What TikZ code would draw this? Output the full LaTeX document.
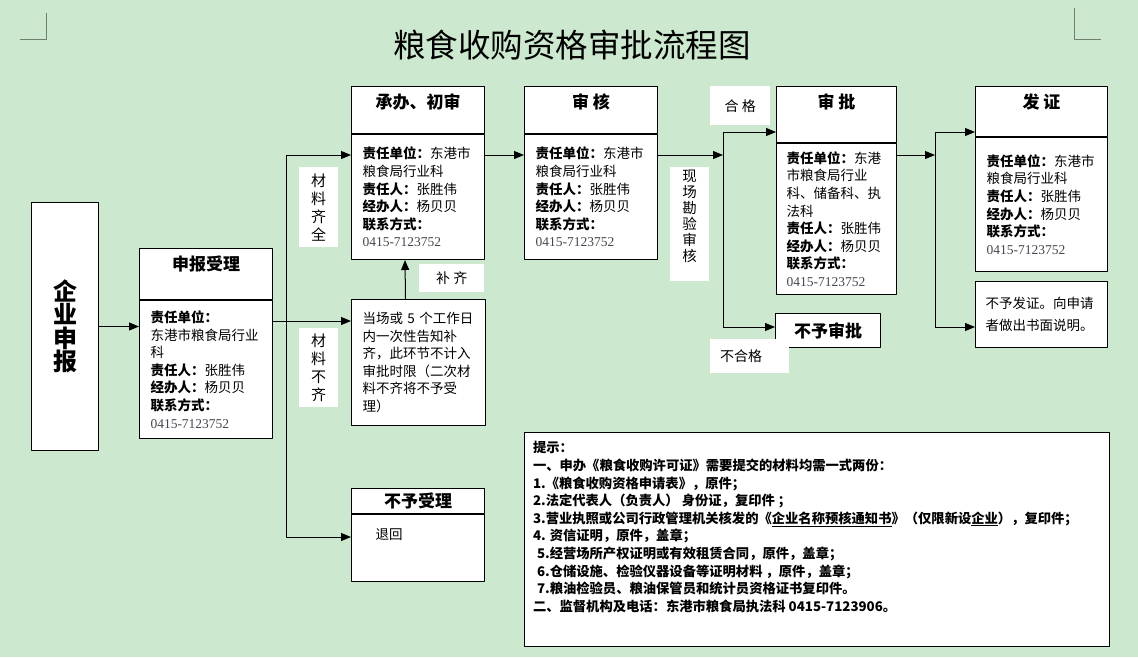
\documentclass[tikz,border=0pt]{standalone}
\usepackage{fontspec}
\setmainfont{Noto Sans CJK SC}
\newfontfamily\numfont{Liberation Serif}
\usetikzlibrary{arrows.meta,positioning}
\definecolor{eyegreen}{RGB}{204,232,207}
\definecolor{marklines}{RGB}{112,128,112}
\definecolor{phonegray}{RGB}{70,70,80}

\begin{document}
\begin{tikzpicture}[x=1pt,y=-1pt,line join=round,>={Triangle[length=10pt,width=8pt]},
  box/.style={draw,fill=white,line width=1pt,anchor=north west,inner sep=0pt,align=left,font=\fontsize{13.5}{17.6}\selectfont},
  headbox/.style={box,align=center,font=\fontsize{17}{20}\selectfont\bfseries},
  tag/.style={fill=white,inner sep=0pt,anchor=north west,align=center,font=\fontsize{14}{18}\selectfont},
  conn/.style={line width=1pt}]
		\fill[eyegreen] (0,0) rectangle (1138,657);
		% corner marks
		\draw[marklines] (46,13)--(46,39)--(20,39);
		\draw[marklines] (1074,8)--(1074,39)--(1101,39);
		\node[font=\fontsize{32.5}{36}\selectfont] (title) at (572,45) {粮食收购资格审批流程图};

		\node[box,minimum width=67,minimum height=248,align=center,font=\fontsize{24}{23.5}\selectfont\bfseries] (qy) at (31,202) {企\\业\\申\\报};

		% 申报受理
		\node[headbox,minimum width=133,minimum height=51] (sbh) at (139,248) {申报受理\\[1pt]\mbox{}};
		\node[box,text width=111,inner xsep=11,minimum height=138] (sbb) at (sbh.south west) {\textbf{责任单位：}\\东港市粮食局行业\\科\\\textbf{责任人：}张胜伟\\\textbf{经办人：}杨贝贝\\\textbf{联系方式：}\\{\numfont\color{phonegray}0415-7123752}};

		% 承办、初审
		\node[headbox,minimum width=133,minimum height=47] (cbh) at (351,86) {承办、初审\\[-3pt]\mbox{}};
		\node[box,text width=111,inner xsep=11,minimum height=125] (cbb) at (cbh.south west) {\textbf{责任单位：}东港市\\粮食局行业科\\\textbf{责任人：}张胜伟\\\textbf{经办人：}杨贝贝\\\textbf{联系方式：}\\{\numfont\color{phonegray}0415-7123752}};

		\node[box,text width=112,inner xsep=11,minimum height=126] (dc) at (351,299) {当场或 5 个工作日\\内一次性告知补\\齐，此环节不计入\\审批时限（二次材\\料不齐将不予受\\理）};

		% 不予受理
		\node[headbox,minimum width=133,minimum height=25] (bsh) at (351,488) {不予受理};
		\node[box,text width=111,inner xsep=11,minimum height=67] (bsb) at (bsh.south west) {\mbox{}\\\hspace*{13pt}退回\\\mbox{}\\\mbox{}};

		% 审核
		\node[headbox,minimum width=133,minimum height=47] (shh) at (524,86) {审\ 核\\[-3pt]\mbox{}};
		\node[box,text width=111,inner xsep=11,minimum height=125] (shb) at (shh.south west) {\textbf{责任单位：}东港市\\粮食局行业科\\\textbf{责任人：}张胜伟\\\textbf{经办人：}杨贝贝\\\textbf{联系方式：}\\{\numfont\color{phonegray}0415-7123752}};

		% 审批
		\node[headbox,minimum width=120,minimum height=56] (sph) at (776,86) {审\ 批\\[6pt]\mbox{}};
		\node[box,text width=100,inner xsep=10,minimum height=151] (spb) at (sph.south west) {\textbf{责任单位：}东港\\市粮食局行业\\科、储备科、执\\法科\\\textbf{责任人：}张胜伟\\\textbf{经办人：}杨贝贝\\\textbf{联系方式：}\\{\numfont\color{phonegray}0415-7123752}};
		\node[box,minimum width=105,minimum height=34,align=center,font=\fontsize{17}{20}\selectfont\bfseries] (bsp) at (775,313) {不予审批};

		% 发证
		\node[headbox,minimum width=132,minimum height=50] (fzh) at (975,86) {发\ 证\\\mbox{}};
		\node[box,text width=110,inner xsep=11,minimum height=134] (fzb) at (fzh.south west) {\textbf{责任单位：}东港市\\粮食局行业科\\\textbf{责任人：}张胜伟\\\textbf{经办人：}杨贝贝\\\textbf{联系方式：}\\{\numfont\color{phonegray}0415-7123752}};
		\node[box,text width=112,inner xsep=10,minimum height=66] (bfz) at (975,281) {不予发证。向申请\\[4pt]者做出书面说明。};

		% labels
		\node[tag,minimum width=39,minimum height=80,font=\fontsize{15}{18}\selectfont] (qq) at (299,167) {材\\料\\齐\\全};
		\node[tag,minimum width=39,minimum height=79,font=\fontsize{15}{18}\selectfont] (bq1) at (299,328) {材\\料\\不\\齐};
		\node[tag,minimum width=65,minimum height=28] (bq) at (419,264) {补\ 齐};
		\node[tag,minimum width=39,minimum height=114,font=\fontsize{14.5}{16}\selectfont] (xc) at (670,167) {现\\场\\勘\\验\\审\\核\\\mbox{}};
		\node[tag,minimum width=60,minimum height=39] (hg) at (710,86) {合\ 格};
		\node[tag,align=left,text width=59,inner xsep=10,minimum height=34] (bhg) at (710,339) {不合格};

		% connectors
		\coordinate (brm) at (286,321);
		\coordinate (brt) at (286,155);
		\coordinate (brb) at (286,537);
		\coordinate (v1m) at (723,155);
		\coordinate (v1t) at (723,132);
		\coordinate (v1b) at (723,327);
		\coordinate (v2m) at (935,155);
		\coordinate (v2t) at (935,132);
		\coordinate (v2b) at (935,327);
		\draw[conn,->] (qy.east)--(qy.east -| sbb.west);
		\draw[conn] (sbb.east |- brm)--(brm);
		\draw[conn,->] (brm)--(brm -| dc.west);
		\draw[conn,->] (brm)--(brt)--(brt -| cbb.west);
		\draw[conn,->] (brm)--(brb)--(brb -| bsb.west);
		\draw[conn,->] ([xshift=-13pt]dc.north)--([xshift=-13pt]cbb.south);
		\draw[conn,->] (cbb.east |- v1m)--(shb.west |- v1m);
		\draw[conn,->] (shb.east |- v1m)--(v1m);
		\draw[conn] (v1t)--(v1b);
		\draw[conn,->] (v1t)--(v1t -| sph.west);
		\draw[conn,->] (v1b)--(v1b -| bsp.west);
		\draw[conn,->] (spb.east |- v2m)--(v2m);
		\draw[conn] (v2t)--(v2b);
		\draw[conn,->] (v2t)--(v2t -| fzh.west);
		\draw[conn,->] (v2b)--(v2b -| bfz.west);

		% 提示
		\node[box,minimum width=585,minimum height=214,font=\fontsize{13.3}{17.6}\selectfont\bfseries] (ts) at (524,432) {\parbox[c][200pt][t]{568pt}{\vspace*{2pt}提示：\\
			一、申办《粮食收购许可证》需要提交的材料均需一式两份：\\
			1.《粮食收购资格申请表》，原件；\\
			2.法定代表人（负责人） 身份证，复印件 ；\\
			3.营业执照或公司行政管理机关核发的《\underline{企业名称预核通知书}》（仅限新设\underline{企业}），复印件；\\
			4. 资信证明，原件，盖章；\\
			\hspace*{4pt}5.经营场所产权证明或有效租赁合同，原件，盖章；\\
			\hspace*{4pt}6.仓储设施、检验仪器设备等证明材料 ，原件，盖章；\\
			\hspace*{4pt}7.粮油检验员、粮油保管员和统计员资格证书复印件。\\
			二、监督机构及电话：东港市粮食局执法科 0415-7123906。}};
\end{tikzpicture}
\end{document}
